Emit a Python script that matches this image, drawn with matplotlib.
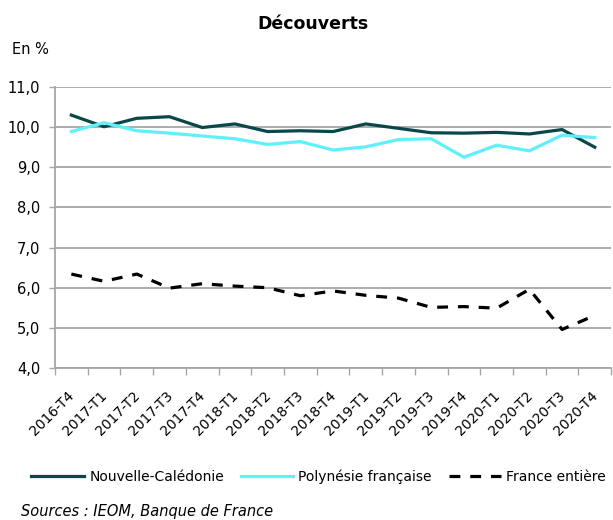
import numpy as np
import matplotlib
matplotlib.use("Agg")
import matplotlib.pyplot as plt
import matplotlib.transforms as mtransforms
from matplotlib.ticker import FixedLocator, FuncFormatter

# Data (percent)
quarters = [
    "2016-T4", "2017-T1", "2017-T2", "2017-T3", "2017-T4",
    "2018-T1", "2018-T2", "2018-T3", "2018-T4",
    "2019-T1", "2019-T2", "2019-T3", "2019-T4",
    "2020-T1", "2020-T2", "2020-T3", "2020-T4",
]
nouvelle_caledonie = [10.30, 10.01, 10.22, 10.26, 9.99, 10.08, 9.89, 9.91, 9.89,
                      10.08, 9.97, 9.86, 9.85, 9.87, 9.83, 9.94, 9.50]
polynesie = [9.89, 10.11, 9.91, 9.85, 9.78, 9.71, 9.57, 9.64, 9.43,
             9.51, 9.69, 9.71, 9.25, 9.55, 9.41, 9.80, 9.74]
france = [6.34, 6.16, 6.34, 5.99, 6.10, 6.04, 6.00, 5.80, 5.92,
          5.81, 5.74, 5.51, 5.53, 5.49, 5.96, 4.96, 5.31]
y_ticks = [4, 5, 6, 7, 8, 9, 10, 11]

plt.rcParams["font.family"] = ["DejaVu Sans"]
grid_col = "#a6a6a6"

fig = plt.figure(figsize=(6.13, 5.20), dpi=100)
ax = fig.add_axes([0.0897, 0.2923, 0.9073, 0.5404])

x = np.arange(len(quarters))
lw = 2.3
ax.plot(x, nouvelle_caledonie, color="#08484a", lw=lw, label="Nouvelle-Calédonie")
ax.plot(x, polynesie, color="#5ef0fc", lw=lw, label="Polynésie française")
ax.plot(x, france, color="black", lw=lw, dashes=(3.4, 3.1), label="France entière")

ax.set_xlim(-0.5, len(quarters) - 0.5)
ax.set_ylim(4, 11)
ax.set_yticks(y_ticks)
ax.yaxis.set_major_formatter(FuncFormatter(lambda v, p: f"{v:.1f}".replace(".", ",")))
ax.grid(axis="y", color=grid_col, lw=1.3)
ax.set_axisbelow(True)

ax.set_xticks(x)
ax.set_xticklabels(quarters, rotation=45, ha="right", va="top",
                   rotation_mode="anchor")
ax.xaxis.set_minor_locator(FixedLocator(np.arange(-0.5, len(quarters), 1.0)))
ax.tick_params(axis="x", which="major", length=0, pad=15, labelsize=10)
ax.tick_params(axis="x", which="minor", length=5, color=grid_col, width=1)
ax.tick_params(axis="y", length=4.5, color=grid_col, width=1, labelsize=10.5, pad=6)

# nudge the rotated labels a little to the left, as in the reference
shift = mtransforms.ScaledTranslation(-4 / 100, 0, fig.dpi_scale_trans)
for lab in ax.get_xticklabels():
    lab.set_transform(lab.get_transform() + shift)

for side in ("top", "right"):
    ax.spines[side].set_visible(False)
for side in ("left", "bottom"):
    ax.spines[side].set_color(grid_col)
    ax.spines[side].set_linewidth(1.3)

fig.text(0.5106, 0.953, "Découverts", ha="center", va="center",
         fontsize=12.5, fontweight="bold")
fig.text(0.02, 0.904, "En %", ha="left", va="center", fontsize=10.5)

fig.legend(loc="center", bbox_to_anchor=(0.52, 0.0827), ncol=3, frameon=False,
           fontsize=10, handlelength=3.8, handletextpad=0.36, columnspacing=1.2)

fig.text(0.035, 0.017, "Sources : IEOM, Banque de France", ha="left",
         va="center", fontsize=10.5, style="italic")

fig.savefig("out.png", dpi=100)
